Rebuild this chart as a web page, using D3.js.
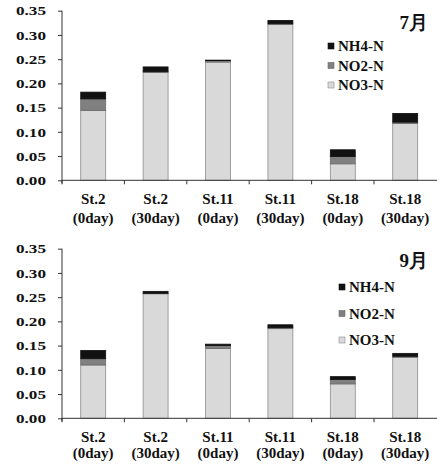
<!DOCTYPE html>
<html>
<head>
<meta charset="utf-8">
<script src="https://cdn.jsdelivr.net/npm/d3@7"></script>
<style>
  body { margin: 0; background: #fff; }
  svg { display: block; }
</style>
</head>
<body>
<div id="chart"></div>
<script>
// categories and tick labels
var stations = ["St.2", "St.2", "St.11", "St.11", "St.18", "St.18"];
var days = ["(0day)", "(30day)", "(0day)", "(30day)", "(0day)", "(30day)"];
var yTicks = [0, 0.05, 0.10, 0.15, 0.20, 0.25, 0.30, 0.35];
var seriesNames = ["NH4-N", "NO2-N", "NO3-N"];

// July (7月)
var julNO3 = [0.144, 0.223, 0.244, 0.322, 0.034, 0.117];
var julNO2 = [0.024, 0.001, 0.003, 0.001, 0.015, 0.003];
var julNH4 = [0.014, 0.010, 0.001, 0.007, 0.014, 0.018];

// September (9月)
var sepNO3 = [0.110, 0.257, 0.144, 0.185, 0.071, 0.126];
var sepNO2 = [0.013, 0.001, 0.006, 0.002, 0.009, 0.002];
var sepNH4 = [0.017, 0.004, 0.003, 0.006, 0.006, 0.006];

var FONT = "'Liberation Serif'";
var colors = {"NO3-N": "#d9d9d9", "NO2-N": "#808080", "NH4-N": "#111111"};
var strokes = {"NO3-N": "#8c8c8c", "NO2-N": "#6a6a6a", "NH4-N": "#111111"};

var svg = d3.select("#chart").append("svg")
    .attr("width", 437)
    .attr("height", 468)
    .attr("font-family", FONT)
    .attr("font-weight", "bold");

var keys = stations.map(function(s, i){ return s + " " + days[i]; });

var drawPanel = function(top, bottom, no3, no2, nh4, title, legend){
    var x = d3.scaleBand()
        .domain(keys)
        .range([62, 436.4])
        .paddingInner(0.6)
        .paddingOuter(0.3);
    var y = d3.scaleLinear().domain([0, 0.35]).range([bottom, top]);

    var rows = keys.map(function(k, i){
        return {key: k, "NO3-N": no3[i], "NO2-N": no2[i], "NH4-N": nh4[i]};
    });
    var stacked = d3.stack().keys(["NO3-N", "NO2-N", "NH4-N"])(rows);

    var g = svg.append("g");

    // bars
    stacked.forEach(function(layer){
        g.selectAll(null)
            .data(layer)
            .enter().append("rect")
            .attr("x", function(d){ return x(d.data.key); })
            .attr("y", function(d){ return y(d[1]); })
            .attr("width", x.bandwidth())
            .attr("height", function(d){ return y(d[0]) - y(d[1]); })
            .attr("fill", colors[layer.key])
            .attr("stroke", strokes[layer.key])
            .attr("stroke-width", 0.8);
    });

    // y axis
    var yAxis = g.append("g")
        .attr("transform", "translate(62,0)")
        .call(d3.axisLeft(y).tickValues(yTicks).tickSize(4).tickSizeOuter(0).tickPadding(12)
            .tickFormat(d3.format(".2f")));
    yAxis.attr("font-family", FONT).attr("font-size", 13);
    yAxis.select(".domain").attr("stroke", "#333").attr("d", "M0," + (bottom + 3) + "V" + top);
    yAxis.selectAll(".tick line").attr("stroke", "#333");
    yAxis.selectAll(".tick text")
        .attr("font-weight", "bold")
        .attr("textLength", 30)
        .attr("lengthAdjust", "spacingAndGlyphs")
        .attr("fill", "#111");

    // x axis line and boundary ticks
    g.append("line")
        .attr("x1", 62).attr("x2", 437)
        .attr("y1", bottom).attr("y2", bottom)
        .attr("stroke", "#333");
    g.selectAll(null)
        .data(keys)
        .enter().append("line")
        .attr("x1", function(d){ return x(d) - x.step() * 0.3; })
        .attr("x2", function(d){ return x(d) - x.step() * 0.3; })
        .attr("y1", bottom)
        .attr("y2", bottom + 4)
        .attr("stroke", "#333");

    // category labels
    var labels = g.selectAll(null)
        .data(keys)
        .enter().append("text")
        .attr("text-anchor", "middle")
        .attr("font-size", 15)
        .attr("fill", "#111");
    labels.append("tspan")
        .attr("x", function(d){ return x(d) + x.bandwidth() / 2; })
        .attr("y", bottom + 24)
        .text(function(d, i){ return stations[i]; });
    labels.append("tspan")
        .attr("x", function(d){ return x(d) + x.bandwidth() / 2; })
        .attr("y", bottom + legend.dayGap)
        .text(function(d, i){ return days[i]; });

    // month title
    g.append("text")
        .attr("x", 428)
        .attr("y", top + 18)
        .attr("text-anchor", "end")
        .attr("font-size", 19)
        .attr("fill", "#111")
        .text(title);

    // legend
    seriesNames.forEach(function(name, i){
        var cy = legend.y + i * legend.step;
        g.append("rect")
            .attr("x", legend.x)
            .attr("y", cy - 3)
            .attr("width", 6)
            .attr("height", 6)
            .attr("fill", colors[name])
            .attr("stroke", strokes[name])
            .attr("stroke-width", 0.6);
        g.append("text")
            .attr("x", legend.x + 10)
            .attr("y", cy + 5)
            .attr("font-size", 15)
            .attr("fill", "#111")
            .text(name);
    });
};

drawPanel(10.7, 180.3, julNO3, julNO2, julNH4, "7月", {x: 328, y: 46, step: 19.5, dayGap: 43});
drawPanel(248.7, 418.3, sepNO3, sepNO2, sepNH4, "9月", {x: 339, y: 287, step: 26.5, dayGap: 40});
</script>
</body>
</html>
